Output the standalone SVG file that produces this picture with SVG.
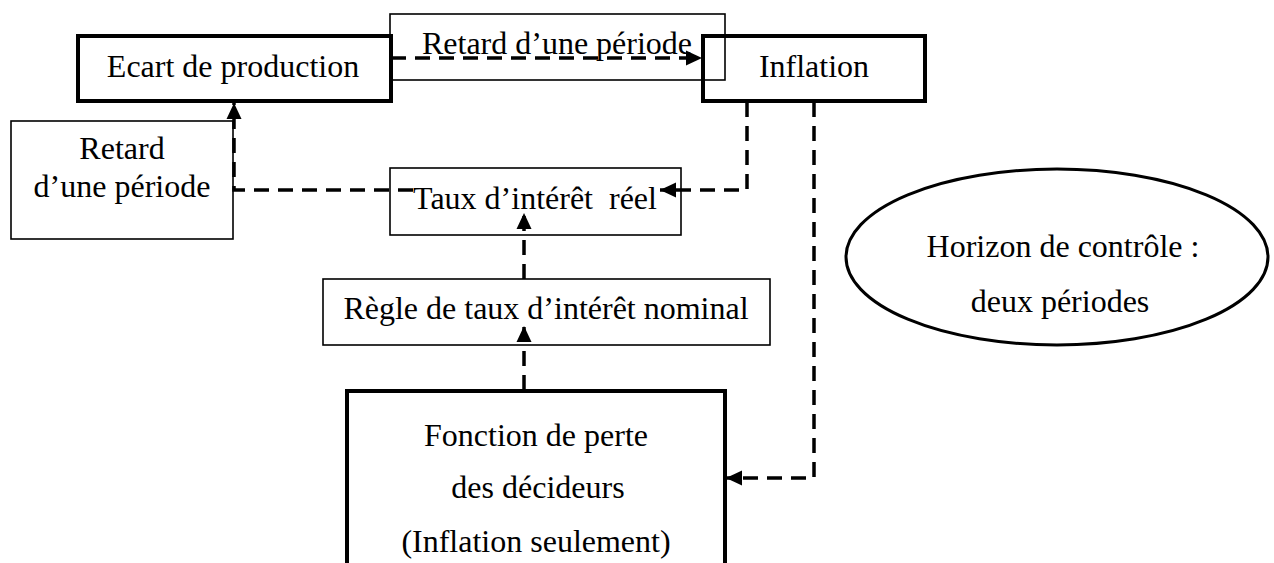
<svg xmlns="http://www.w3.org/2000/svg" width="1274" height="563" viewBox="0 0 1274 563">
<style>
text{font-family:"Liberation Serif","Times New Roman",serif;font-size:32px;fill:#000;text-anchor:middle}
.thick{fill:none;stroke:#000;stroke-width:4}
.thin{fill:none;stroke:#000;stroke-width:1.6}
.conn{fill:none;stroke:#000;stroke-width:3.5;stroke-dasharray:15 9}
</style>
<defs>
<marker id="arr" markerUnits="userSpaceOnUse" markerWidth="17" markerHeight="16" refX="16" refY="8" orient="auto">
<path d="M0,0.5 L16,8 L0,15.5 z" fill="#000"/>
</marker>
</defs>
<rect width="1274" height="563" fill="#fff"/>
<g id="retard-top">
<rect class="thin" x="390" y="14" width="335" height="66"/>
<text x="557" y="54">Retard d’une période</text>
</g>
<g id="ecart">
<rect class="thick" x="78" y="36" width="313" height="65"/>
<text x="233" y="77">Ecart de production</text>
</g>
<g id="inflation">
<rect class="thick" x="703" y="36" width="222" height="65"/>
<text x="814" y="77">Inflation</text>
</g>
<g id="retard-left">
<rect class="thin" x="11" y="121" width="222" height="118"/>
<text x="122" y="159">Retard</text>
<text x="122" y="197">d’une période</text>
</g>
<g id="taux">
<rect class="thin" x="390" y="168" width="291" height="67"/>
<text x="535" y="209" xml:space="preserve">Taux d’intérêt  réel</text>
</g>
<g id="regle">
<rect class="thin" x="323" y="279" width="447" height="66"/>
<text x="546" y="319">Règle de taux d’intérêt nominal</text>
</g>
<g id="fonction">
<rect class="thick" x="347" y="391" width="378" height="220"/>
<text x="536" y="446">Fonction de perte</text>
<text x="538" y="498">des décideurs</text>
<text x="536" y="552">(Inflation seulement)</text>
</g>
<g id="horizon">
<ellipse cx="1057" cy="257" rx="211" ry="88" fill="none" stroke="#000" stroke-width="3"/>
<text x="1063" y="257">Horizon de contrôle :</text>
<text x="1060" y="312">deux périodes</text>
</g>
<g id="connectors">
<path class="conn" d="M391,58 H702" marker-end="url(#arr)"/>
<path class="conn" d="M747,102 V190 H660" marker-end="url(#arr)"/>
<path class="conn" d="M814,102 V478 H726" marker-end="url(#arr)"/>
<path class="conn" d="M413,190 H234 V103" marker-end="url(#arr)"/>
<path class="conn" d="M524,279 V213" marker-end="url(#arr)"/>
<path class="conn" d="M524,390 V326" marker-end="url(#arr)"/>
</g>
</svg>
